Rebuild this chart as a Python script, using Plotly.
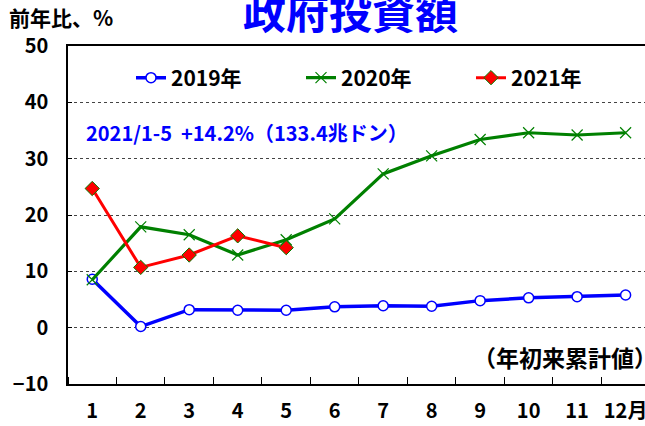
import plotly.graph_objects as go

months = [1, 2, 3, 4, 5, 6, 7, 8, 9, 10, 11, 12]
month_labels = ["1", "2", "3", "4", "5", "6", "7", "8", "9", "10", "11", "12月"]
y2019 = [8.6, 0.2, 3.2, 3.1, 3.1, 3.7, 3.9, 3.8, 4.8, 5.3, 5.5, 5.8]
y2020 = [8.5, 17.9, 16.5, 12.9, 15.6, 19.3, 27.3, 30.5, 33.4, 34.6, 34.2, 34.6]
y2021 = [24.7, 10.7, 12.9, 16.3, 14.2]
y_ticks = [-10, 0, 10, 20, 30, 40, 50]

W, H = 645, 426
L, R, T, B = 68, 0, 46, 42
FONT = "Noto Sans CJK JP"

def px(x):
    return (x - L) / (W - L - R)

def py(y):
    return 1 - (y - T) / (H - T - B)

fig = go.Figure()
fig.add_trace(go.Scatter(
    x=months, y=y2019, name="2019年", mode="lines+markers",
    line=dict(color="#0000FF", width=3.5),
    marker=dict(symbol="circle", size=10, color="white", line=dict(color="#0000FF", width=1.5)),
))
fig.add_trace(go.Scatter(
    x=months, y=y2020, name="2020年", mode="lines+markers",
    line=dict(color="#008000", width=3.2),
    marker=dict(symbol="x-thin", size=11, color="#008000", line=dict(color="#008000", width=1.2)),
))
fig.add_trace(go.Scatter(
    x=months[:len(y2021)], y=y2021, name="2021年", mode="lines+markers",
    line=dict(color="#FF0000", width=3),
    marker=dict(symbol="diamond", size=11, color="#FF0000", line=dict(color="#008000", width=1)),
))

fig.update_layout(
    width=W, height=H, autosize=False,
    margin=dict(l=L, r=R, t=T, b=B, autoexpand=False),
    paper_bgcolor="white", plot_bgcolor="white",
    font=dict(family=FONT, color="black", size=20),
    showlegend=True,
    legend=dict(
        orientation="h", x=px(131), y=py(78), xanchor="left", yanchor="middle",
        font=dict(family=FONT, size=21, color="black", weight="bold"),
        entrywidth=125, entrywidthmode="pixels",
        itemwidth=30, bgcolor="rgba(0,0,0,0)",
    ),
    xaxis=dict(
        range=[0.5, 12.4], tickmode="array", tickvals=months, ticktext=month_labels,
        showgrid=False, zeroline=False, showline=True, linecolor="black", linewidth=1.5,
        mirror=True, ticks="", ticklabelstandoff=8, ticklabeloverflow="allow",
        automargin=False,
        tickfont=dict(family=FONT, size=20, color="black", weight="bold"),
        minor=dict(tick0=0.5, dtick=1, ticks="inside", ticklen=7, tickcolor="black", tickwidth=1, showgrid=False),
    ),
    yaxis=dict(
        range=[-10, 50], tickmode="array", tickvals=y_ticks,
        showgrid=True, gridcolor="#444444", griddash="dot", gridwidth=1,
        zeroline=False, showline=True, linecolor="black", linewidth=1.5,
        ticks="inside", ticklen=4, tickcolor="black", ticklabelstandoff=14,
        automargin=False,
        tickfont=dict(family=FONT, size=20, color="black", weight="bold"),
    ),
    annotations=[
        dict(text="政府投資額", xref="paper", yref="paper", x=px(350), y=py(10),
             xanchor="center", yanchor="middle", showarrow=False,
             font=dict(family=FONT, size=43, color="#0000FF", weight="bold")),
        dict(text="前年比、%", xref="paper", yref="paper", x=px(7), y=py(17),
             xanchor="left", yanchor="middle", showarrow=False,
             font=dict(family=FONT, size=21, color="black", weight="bold")),
        dict(text="2021/1-5\u00a0\u00a0+14.2%（133.4兆ドン）", xref="paper", yref="paper", x=px(84), y=py(132),
             xanchor="left", yanchor="middle", showarrow=False,
             font=dict(family=FONT, size=20, color="#0000FF", weight="bold")),
        dict(text="（年初来累計値）", xref="paper", yref="paper", x=px(471), y=py(357),
             xanchor="left", yanchor="middle", showarrow=False,
             font=dict(family=FONT, size=23, color="black", weight="bold")),
    ],
)

fig.write_html(
    "out.html",
    config={"displayModeBar": False, "responsive": False},
    default_width="645px", default_height="426px",
    post_script=(
        "document.documentElement.style.margin='0';document.documentElement.style.overflow='hidden';"
        "document.body.style.margin='0';document.body.style.overflow='hidden';"
    ),
)
